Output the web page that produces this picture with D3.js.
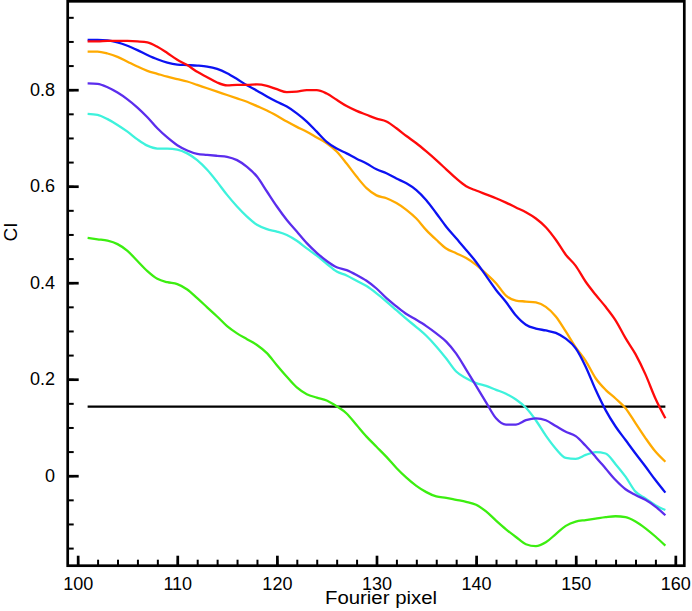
<!DOCTYPE html>
<html>
<head>
<meta charset="utf-8">
<script src="https://cdn.jsdelivr.net/npm/d3@7/dist/d3.min.js"></script>
<style>
  html, body { margin: 0; padding: 0; background: #fff; }
  svg { display: block; }
  text { font-family: "Liberation Sans", Arial, Helvetica, sans-serif; fill: #000; }
</style>
</head>
<body>
<svg id="chart" width="692" height="611"></svg>
<script>
// ---- data ----
const fourierPixel = d3.range(101, 160); // 101 .. 159

const seriesRed = [0.900,0.900,0.901,0.901,0.901,0.900,0.898,0.889,0.876,0.862,
  0.851,0.837,0.826,0.815,0.809,0.810,0.810,0.811,0.808,0.801,
  0.795,0.796,0.799,0.799,0.792,0.779,0.766,0.756,0.748,0.740,
  0.734,0.720,0.704,0.689,0.672,0.654,0.635,0.616,0.600,0.591,
  0.583,0.575,0.566,0.556,0.546,0.533,0.515,0.489,0.458,0.435,
  0.402,0.375,0.350,0.322,0.285,0.252,0.210,0.160,0.119];

const seriesBlue = [0.903,0.903,0.902,0.898,0.891,0.882,0.872,0.863,0.856,0.852,
  0.851,0.850,0.848,0.843,0.834,0.822,0.809,0.798,0.786,0.775,
  0.765,0.751,0.734,0.713,0.692,0.678,0.668,0.657,0.647,0.635,
  0.627,0.616,0.606,0.592,0.571,0.544,0.516,0.492,0.468,0.443,
  0.414,0.385,0.360,0.332,0.313,0.305,0.301,0.296,0.284,0.264,
  0.226,0.178,0.136,0.102,0.074,0.046,0.019,-0.009,-0.035];

const seriesOrange = [0.879,0.879,0.875,0.868,0.858,0.848,0.839,0.833,0.827,0.822,
  0.817,0.810,0.803,0.796,0.789,0.782,0.775,0.766,0.757,0.746,
  0.734,0.723,0.713,0.701,0.689,0.672,0.647,0.620,0.596,0.581,
  0.575,0.565,0.551,0.533,0.509,0.489,0.471,0.461,0.451,0.437,
  0.419,0.399,0.373,0.363,0.361,0.359,0.350,0.330,0.299,0.266,
  0.238,0.202,0.178,0.160,0.140,0.109,0.078,0.050,0.029];

const seriesPurple = [0.813,0.812,0.805,0.794,0.780,0.763,0.743,0.720,0.701,0.685,
  0.674,0.667,0.665,0.663,0.661,0.654,0.640,0.620,0.589,0.558,
  0.530,0.506,0.482,0.462,0.445,0.432,0.426,0.416,0.404,0.388,
  0.368,0.351,0.335,0.323,0.310,0.295,0.278,0.253,0.220,0.186,
  0.152,0.119,0.106,0.106,0.115,0.119,0.115,0.103,0.091,0.082,
  0.062,0.039,0.015,-0.009,-0.028,-0.040,-0.050,-0.064,-0.082];

const seriesCyan = [0.750,0.748,0.739,0.727,0.713,0.697,0.684,0.678,0.678,0.676,
  0.668,0.654,0.634,0.609,0.582,0.558,0.537,0.520,0.511,0.506,
  0.499,0.487,0.471,0.456,0.439,0.423,0.415,0.404,0.393,0.378,
  0.361,0.343,0.325,0.308,0.290,0.268,0.243,0.216,0.202,0.192,
  0.186,0.178,0.170,0.158,0.141,0.115,0.083,0.056,0.037,0.035,
  0.043,0.049,0.046,0.024,-0.002,-0.033,-0.047,-0.061,-0.071];

const seriesGreen = [0.493,0.490,0.487,0.480,0.466,0.445,0.424,0.408,0.401,0.397,
  0.386,0.368,0.349,0.330,0.310,0.295,0.283,0.271,0.254,0.229,
  0.205,0.183,0.169,0.162,0.156,0.144,0.129,0.105,0.081,0.060,
  0.039,0.016,-0.004,-0.021,-0.034,-0.043,-0.046,-0.050,-0.054,-0.060,
  -0.074,-0.093,-0.111,-0.127,-0.142,-0.146,-0.138,-0.121,-0.104,-0.095,
  -0.092,-0.089,-0.086,-0.084,-0.086,-0.095,-0.109,-0.126,-0.145];

const thresholdValue = 0.143;
const thresholdRange = [101, 159];

const xMajorTicks = [100, 110, 120, 130, 140, 150, 160];
const xMinorTicks = d3.range(100, 161, 2);
const yMajorTicks = [0, 0.2, 0.4, 0.6, 0.8];
const yMinorTicks = d3.range(-0.15, 0.96, 0.05).map(v => Math.round(v * 100) / 100);

const xLabel = "Fourier pixel";
const yLabel = "CI";

const seriesList = [
  { name: "green",  values: seriesGreen,  color: "#3cee10" },
  { name: "cyan",   values: seriesCyan,   color: "#3ef2dc" },
  { name: "purple", values: seriesPurple, color: "#5b2ded" },
  { name: "orange", values: seriesOrange, color: "#ffaa00" },
  { name: "blue",   values: seriesBlue,   color: "#0c12f2" },
  { name: "red",    values: seriesRed,    color: "#ff0a0a" }
];

// ---- layout ----
(function () {
const svg = d3.select("#chart");
const mLeft = 67.7, mRight = 684.3, mTop = 1.3, mBottom = 565.7;

const x = d3.scaleLinear().domain([99, 160.9]).range([mLeft, mRight]);
const y = d3.scaleLinear().domain([-0.1865, 0.9832]).range([mBottom, mTop]);

// threshold line
svg.append("line")
  .attr("x1", x(thresholdRange[0])).attr("x2", x(thresholdRange[1]))
  .attr("y1", y(thresholdValue)).attr("y2", y(thresholdValue))
  .attr("stroke", "#000").attr("stroke-width", 2.2);

// series
const line = d3.line()
  .x((d, i) => x(fourierPixel[i]))
  .y(d => y(d))
  .curve(d3.curveMonotoneX);

svg.append("g").selectAll("path")
  .data(seriesList)
  .join("path")
  .attr("d", s => line(s.values))
  .attr("fill", "none")
  .attr("stroke", s => s.color)
  .attr("stroke-width", 2.3)
  .attr("stroke-linejoin", "round");

// axes
const fmtY = d => d === 0 ? "0" : d3.format(".1f")(d);

const yMinor = svg.append("g").attr("transform", `translate(${mLeft},0)`)
  .call(d3.axisLeft(y).tickValues(yMinorTicks).tickSize(-6).tickFormat(""));
yMinor.select(".domain").remove();
yMinor.selectAll("line").attr("stroke-width", 2);

const yMajor = svg.append("g").attr("transform", `translate(${mLeft},0)`)
  .call(d3.axisLeft(y).tickValues(yMajorTicks).tickSize(-11).tickPadding(12.7).tickFormat(fmtY));
yMajor.select(".domain").remove();
yMajor.selectAll("line").attr("stroke-width", 2.7);
yMajor.selectAll("text").style("font-size", "18px").attr("font-family", null);

const xMinor = svg.append("g").attr("transform", `translate(0,${mBottom})`)
  .call(d3.axisBottom(x).tickValues(xMinorTicks).tickSize(-6).tickFormat(""));
xMinor.select(".domain").remove();
xMinor.selectAll("line").attr("stroke-width", 2);

const xMajor = svg.append("g").attr("transform", `translate(0,${mBottom})`)
  .call(d3.axisBottom(x).tickValues(xMajorTicks).tickSize(-10).tickPadding(11.5).tickFormat(d3.format("d")));
xMajor.select(".domain").remove();
xMajor.selectAll("line").attr("stroke-width", 2.7);
xMajor.selectAll("text").style("font-size", "18px").attr("font-family", null);

// frame
svg.append("rect")
  .attr("x", mLeft).attr("y", mTop)
  .attr("width", mRight - mLeft).attr("height", mBottom - mTop)
  .attr("fill", "none").attr("stroke", "#000").attr("stroke-width", 2.7);

// axis titles
svg.append("text")
  .attr("x", 381).attr("y", 603.5)
  .attr("text-anchor", "middle")
  .attr("textLength", 112).attr("lengthAdjust", "spacingAndGlyphs")
  .style("font-size", "18px")
  .text(xLabel);

svg.append("text")
  .attr("transform", "translate(16.5,232) rotate(-90)")
  .attr("text-anchor", "middle")
  .style("font-size", "19px")
  .text(yLabel);
})();
</script>
</body>
</html>
